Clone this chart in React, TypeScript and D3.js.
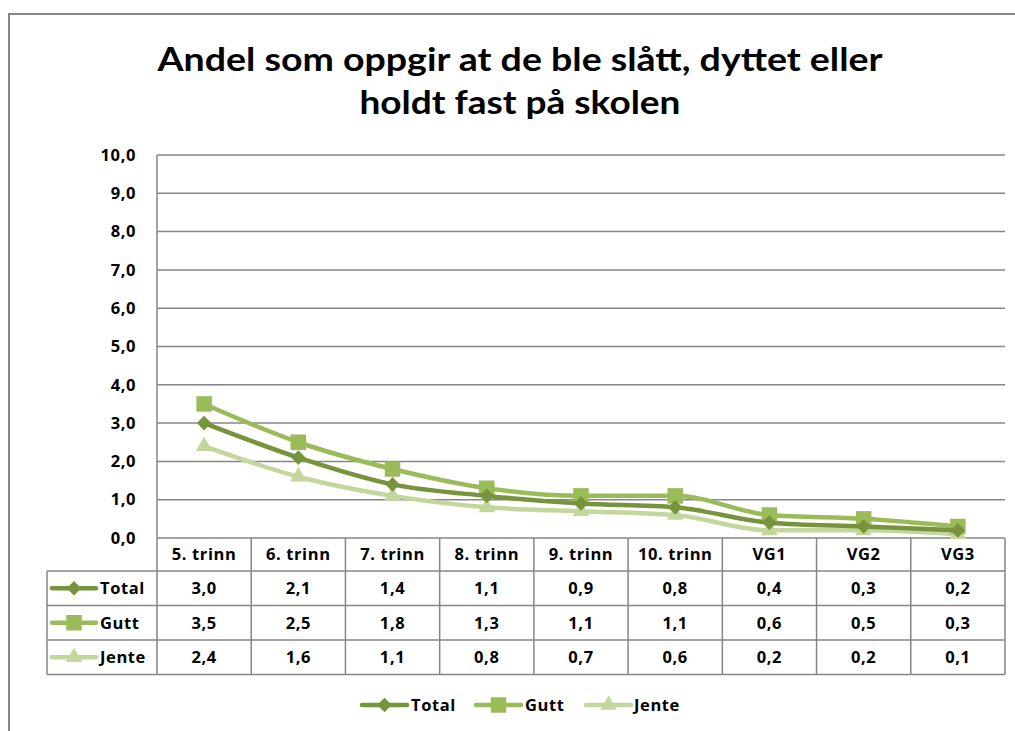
import React from "react";
import * as d3 from "d3";

const categories = ["5. trinn", "6. trinn", "7. trinn", "8. trinn", "9. trinn", "10. trinn", "VG1", "VG2", "VG3"];
const seriesNames = ["Total", "Gutt", "Jente"];
const totalValues = [3.0, 2.1, 1.4, 1.1, 0.9, 0.8, 0.4, 0.3, 0.2];
const guttValues = [3.5, 2.5, 1.8, 1.3, 1.1, 1.1, 0.6, 0.5, 0.3];
const jenteValues = [2.4, 1.6, 1.1, 0.8, 0.7, 0.6, 0.2, 0.2, 0.1];
const yTicks = [0, 1, 2, 3, 4, 5, 6, 7, 8, 9, 10];
const titleLines = ["Andel som oppgir at de ble slått, dyttet eller", "holdt fast på skolen"];

const colors = ["#77933C", "#9BBB59", "#C3D69B"];
const symbols = [d3.symbolDiamond, d3.symbolSquare, d3.symbolTriangle];
const symbolSizes = [62, 240, 120];
const seriesValues = [totalValues, guttValues, jenteValues];

const W = 1015, H = 731;
const plotLeft = 157, plotRight = 1005, plotTop = 155, plotBottom = 538;
const tableLeft = 47;
const rowH = 34.5;
const headerBottom = 571;
const titleFont = "Lato, Carlito, Calibri, sans-serif";
const font = "'Open Sans', sans-serif";
const gridColor = "#868686";
const fs = 16.5;
const ls = 0.6;

const fmt = (v: number) => v.toFixed(1).replace(".", ",");

function Marker({ i, x, y }: { i: number; x: number; y: number }) {
  const path = d3.symbol().type(symbols[i]).size(symbolSizes[i])() as string;
  const sx = i === 0 ? 1.7 : 1;
  return <path d={path} transform={`translate(${x},${y}) scale(${sx},1)`} fill={colors[i]} />;
}

function LegendKey({ i, x, y, w }: { i: number; x: number; y: number; w: number }) {
  return (
    <g>
      <line x1={x} x2={x + w} y1={y} y2={y} stroke={colors[i]} strokeWidth={4.5} strokeLinecap="round" />
      <Marker i={i} x={x + w / 2} y={y} />
    </g>
  );
}

export default function App() {
  const xBand = d3.scaleBand<string>().domain(categories).range([plotLeft, plotRight]).padding(0);
  const xc = (c: string) => (xBand(c) as number) + xBand.bandwidth() / 2;
  const y = d3.scaleLinear().domain([0, 10]).range([plotBottom, plotTop]);
  const line = d3
    .line<number>()
    .x((_, i) => xc(categories[i]))
    .y((d) => y(d))
    .curve(d3.curveMonotoneX);

  const tableBottom = headerBottom + rowH * 3;
  const legendItems = [
    { x: 362, tx: 411 },
    { x: 476, tx: 525 },
    { x: 586, tx: 634 },
  ];

  return (
    <svg width={W} height={H} style={{ position: "absolute", left: 0, top: 0, background: "#fff" }} fontFamily={font}>
      <rect x={9} y={14} width={W} height={H} fill="#fff" stroke={gridColor} strokeWidth={2} />
      {/* Title */}
      <text x={520} y={71} textAnchor="middle" fontFamily={titleFont} fontSize={32} fontWeight={700} fill="#000" textLength={725} lengthAdjust="spacingAndGlyphs">
        {titleLines[0]}
      </text>
      <text x={520} y={114} textAnchor="middle" fontFamily={titleFont} fontSize={32} fontWeight={700} fill="#000" textLength={321} lengthAdjust="spacingAndGlyphs">
        {titleLines[1]}
      </text>

      {/* Gridlines */}
      {yTicks.map((t) => (
        <g key={t}>
          <line x1={plotLeft} x2={plotRight} y1={y(t)} y2={y(t)} stroke={gridColor} strokeWidth={1.5} />
          <text x={136} y={y(t)} dy="0.35em" textAnchor="end" fontSize={fs} fontWeight={700} letterSpacing={ls} fill="#000">
            {fmt(t)}
          </text>
        </g>
      ))}
      <line x1={plotLeft} x2={plotLeft} y1={plotTop} y2={tableBottom} stroke={gridColor} strokeWidth={1.5} />

      {/* Table */}
      {categories.map((c, i) => (
        <g key={c}>
          <line x1={(xBand(c) as number) + xBand.bandwidth()} x2={(xBand(c) as number) + xBand.bandwidth()} y1={plotBottom} y2={tableBottom} stroke={gridColor} strokeWidth={1.5} />
          <text x={xc(c)} y={(plotBottom + headerBottom) / 2} dy="0.35em" textAnchor="middle" fontSize={fs} fontWeight={700} letterSpacing={ls} fill="#000">
            {c}
          </text>
          {seriesValues.map((vals, s) => (
            <text key={s} x={xc(c)} y={headerBottom + rowH * (s + 0.5)} dy="0.35em" textAnchor="middle" fontSize={fs} fontWeight={700} letterSpacing={ls} fill="#000">
              {fmt(vals[i])}
            </text>
          ))}
        </g>
      ))}
      {[0, 1, 2, 3].map((r) => (
        <line key={r} x1={tableLeft} x2={plotRight} y1={headerBottom + rowH * r} y2={headerBottom + rowH * r} stroke={gridColor} strokeWidth={1.5} />
      ))}
      <line x1={tableLeft} x2={tableLeft} y1={headerBottom} y2={tableBottom} stroke={gridColor} strokeWidth={1.5} />
      {seriesNames.map((n, s) => (
        <g key={n}>
          <LegendKey i={s} x={52} y={headerBottom + rowH * (s + 0.5)} w={44} />
          <text x={100} y={headerBottom + rowH * (s + 0.5)} dy="0.35em" fontSize={fs} fontWeight={700} letterSpacing={ls} fill="#000">
            {n}
          </text>
        </g>
      ))}

      {/* Lines */}
      {[2, 1, 0].map((s) => (
        <g key={s}>
          <path d={line(seriesValues[s]) as string} fill="none" stroke={colors[s]} strokeWidth={4.5} strokeLinejoin="round" />
          {seriesValues[s].map((v, i) => (
            <Marker key={i} i={s} x={xc(categories[i])} y={y(v)} />
          ))}
        </g>
      ))}

      {/* Legend */}
      {seriesNames.map((n, s) => (
        <g key={n}>
          <LegendKey i={s} x={legendItems[s].x} y={705} w={45} />
          <text x={legendItems[s].tx} y={705} dy="0.35em" fontSize={fs} fontWeight={700} letterSpacing={ls} fill="#000">
            {n}
          </text>
        </g>
      ))}
    </svg>
  );
}
